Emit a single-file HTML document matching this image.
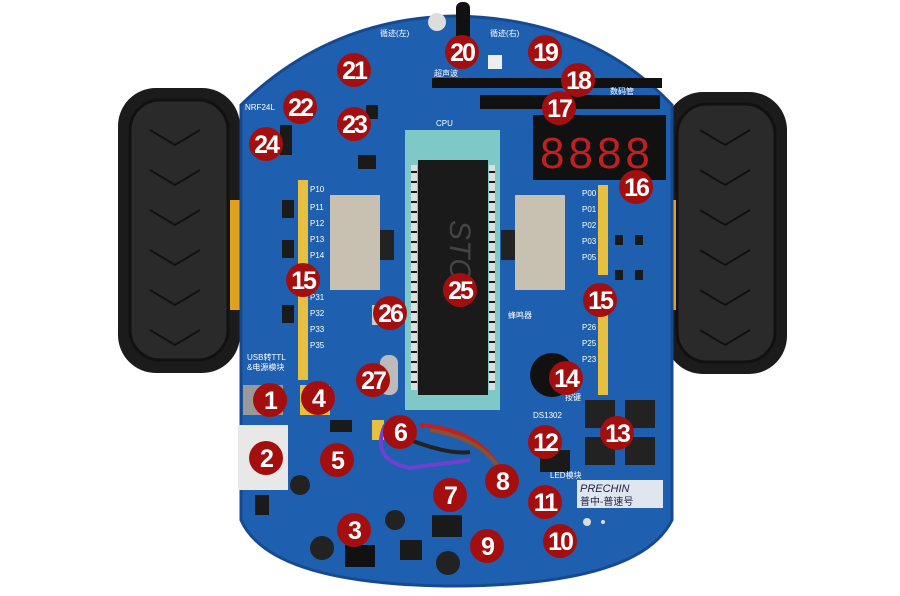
<!DOCTYPE html>
<html><head><meta charset="utf-8"><style>
body{margin:0;background:#fff}
svg{display:block}
text{font-family:"Liberation Sans","Noto Sans CJK SC",sans-serif}
.n{fill:#fff;font-size:25px;font-weight:bold;text-anchor:middle;letter-spacing:-2px}
.s{fill:#fff;font-size:8px}
</style></head><body>
<svg width="900" height="596" viewBox="0 0 900 596">
<!-- wheels -->
<rect x="118" y="88" width="122" height="285" rx="38" fill="#1b1b1b"/>
<rect x="130" y="100" width="98" height="260" rx="30" fill="#2a2a2a" stroke="#111" stroke-width="3"/>
<rect x="665" y="92" width="122" height="282" rx="38" fill="#1b1b1b"/>
<rect x="677" y="104" width="98" height="258" rx="30" fill="#2a2a2a" stroke="#111" stroke-width="3"/>
<g stroke="#111" stroke-width="2" fill="none">
<path d="M150 130 l25 15 l25 -15 M150 170 l25 15 l25 -15 M150 210 l25 15 l25 -15 M150 250 l25 15 l25 -15 M150 290 l25 15 l25 -15 M150 330 l25 15 l25 -15"/>
<path d="M700 130 l25 15 l25 -15 M700 170 l25 15 l25 -15 M700 210 l25 15 l25 -15 M700 250 l25 15 l25 -15 M700 290 l25 15 l25 -15 M700 330 l25 15 l25 -15"/>
</g>
<rect x="230" y="200" width="14" height="110" fill="#e0a020"/>
<rect x="662" y="200" width="14" height="110" fill="#e0a020"/>
<!-- board -->
<path d="M241 105 Q330 18 455 16 Q590 18 672 105 L672 520 Q640 585 455 586 Q270 585 241 520 Z" fill="#1f5fb0" stroke="#164a90" stroke-width="3"/>
<!-- sensor stick -->
<rect x="456" y="2" width="14" height="40" rx="6" fill="#111"/>
<circle cx="437" cy="22" r="9" fill="#ddd"/>
<!-- header rows -->
<rect x="432" y="78" width="230" height="10" fill="#111"/>
<rect x="480" y="95" width="180" height="14" fill="#111"/>
<!-- display -->
<rect x="533" y="115" width="133" height="65" fill="#111"/>
<text x="540" y="168" fill="#c02020" font-size="44" font-family="Liberation Mono" letter-spacing="4">8888</text>
<!-- chip socket -->
<rect x="405" y="130" width="95" height="280" fill="#7fc8c8"/>
<rect x="418" y="160" width="70" height="235" fill="#1a1a1a"/>
<g fill="#ddd">
<rect x="411" y="165" width="6" height="225"/><rect x="489" y="165" width="6" height="225"/>
</g>
<g stroke="#1a1a1a" stroke-width="2">
<path d="M411 172 h6 M411 182 h6 M411 192 h6 M411 202 h6 M411 212 h6 M411 222 h6 M411 232 h6 M411 242 h6 M411 252 h6 M411 262 h6 M411 272 h6 M411 282 h6 M411 292 h6 M411 302 h6 M411 312 h6 M411 322 h6 M411 332 h6 M411 342 h6 M411 352 h6 M411 362 h6 M411 372 h6 M411 382 h6"/>
<path d="M489 172 h6 M489 182 h6 M489 192 h6 M489 202 h6 M489 212 h6 M489 222 h6 M489 232 h6 M489 242 h6 M489 252 h6 M489 262 h6 M489 272 h6 M489 282 h6 M489 292 h6 M489 302 h6 M489 312 h6 M489 322 h6 M489 332 h6 M489 342 h6 M489 352 h6 M489 362 h6 M489 372 h6 M489 382 h6"/>
</g>
<text x="440" y="230" fill="#444" font-size="30" font-style="italic" transform="rotate(90 450 230)">STC</text>
<!-- servo brackets -->
<rect x="330" y="195" width="50" height="95" fill="#c8c0b0"/>
<rect x="515" y="195" width="50" height="95" fill="#c8c0b0"/>
<rect x="380" y="230" width="14" height="30" fill="#222"/>
<rect x="501" y="230" width="14" height="30" fill="#222"/>
<!-- yellow headers -->
<rect x="298" y="180" width="10" height="200" fill="#e8c040"/>
<rect x="598" y="185" width="10" height="90" fill="#e8c040"/>
<rect x="598" y="300" width="10" height="95" fill="#e8c040"/>
<rect x="300" y="385" width="30" height="30" fill="#e8c040"/>
<rect x="372" y="420" width="12" height="20" fill="#e8c040"/>
<!-- white connector -->
<rect x="238" y="425" width="50" height="65" fill="#e8e8e8"/>
<rect x="243" y="385" width="40" height="30" fill="#999"/>
<!-- buzzer -->
<circle cx="552" cy="375" r="22" fill="#111"/>
<!-- buttons -->
<g fill="#222"><rect x="585" y="400" width="30" height="28"/><rect x="625" y="400" width="30" height="28"/><rect x="585" y="437" width="30" height="28"/><rect x="625" y="437" width="30" height="28"/></g>
<!-- small components -->
<g fill="#1a1a1a">
<rect x="366" y="105" width="12" height="14"/><rect x="280" y="125" width="12" height="30"/><rect x="358" y="155" width="18" height="14"/>
<rect x="330" y="420" width="22" height="12"/><rect x="432" y="515" width="30" height="22"/><rect x="400" y="540" width="22" height="20"/><rect x="255" y="495" width="14" height="20"/>
<rect x="615" y="270" width="8" height="10"/><rect x="635" y="270" width="8" height="10"/><rect x="615" y="235" width="8" height="10"/><rect x="635" y="235" width="8" height="10"/>
<rect x="540" y="450" width="30" height="22"/>
<rect x="282" y="200" width="12" height="18"/><rect x="282" y="240" width="12" height="18"/><rect x="282" y="305" width="12" height="18"/>
</g>
<rect x="488" y="55" width="14" height="14" fill="#eee"/>
<rect x="372" y="305" width="18" height="20" fill="#ccc"/>
<rect x="380" y="355" width="18" height="40" rx="8" fill="#bbb"/>
<!-- wires -->
<path d="M385 425 Q370 460 410 468 L470 460" stroke="#7040d0" stroke-width="4" fill="none"/>
<path d="M420 425 Q480 430 500 470" stroke="#c02020" stroke-width="4" fill="none"/>
<path d="M430 430 Q490 440 505 480" stroke="#8a5030" stroke-width="4" fill="none"/>
<path d="M410 440 Q450 455 470 452" stroke="#222" stroke-width="4" fill="none"/>
<!-- PRECHIN label -->
<rect x="577" y="480" width="86" height="28" fill="#dfe6f0"/>
<text x="580" y="492" fill="#224" font-size="11" font-style="italic" font-family="Liberation Serif">PRECHIN</text>
<text x="580" y="505" fill="#224" font-size="10">普中-普速号</text>
<!-- caps -->
<circle cx="322" cy="548" r="12" fill="#222"/><circle cx="448" cy="563" r="12" fill="#222"/><circle cx="395" cy="520" r="10" fill="#222"/><circle cx="300" cy="485" r="10" fill="#222"/>
<circle cx="587" cy="522" r="4" fill="#ddd"/><circle cx="603" cy="522" r="2" fill="#ddd"/>
<rect x="345" y="545" width="30" height="22" fill="#111"/>
<text class="s" x="247" y="360">USB转TTL</text><text class="s" x="247" y="370">&amp;电源模块</text>
<text class="s" x="245" y="110">NRF24L</text>
<text class="s" x="436" y="126">CPU</text>
<text class="s" x="434" y="76">超声波</text>
<text class="s" x="610" y="94">数码管</text>
<text class="s" x="380" y="36">循迹(左)</text><text class="s" x="490" y="36">循迹(右)</text>
<text class="s" x="565" y="400">按键</text>
<text class="s" x="533" y="418">DS1302</text>
<text class="s" x="550" y="478">LED模块</text>
<text class="s" x="508" y="318">蜂鸣器</text>
<g class="s"><text class="s" x="310" y="192">P10</text><text class="s" x="310" y="210">P11</text><text class="s" x="310" y="226">P12</text><text class="s" x="310" y="242">P13</text><text class="s" x="310" y="258">P14</text>
<text class="s" x="310" y="300">P31</text><text class="s" x="310" y="316">P32</text><text class="s" x="310" y="332">P33</text><text class="s" x="310" y="348">P35</text>
<text class="s" x="582" y="196">P00</text><text class="s" x="582" y="212">P01</text><text class="s" x="582" y="228">P02</text><text class="s" x="582" y="244">P03</text><text class="s" x="582" y="260">P05</text>
<text class="s" x="582" y="330">P26</text><text class="s" x="582" y="346">P25</text><text class="s" x="582" y="362">P23</text></g>
<!-- number markers -->
<g fill="#a50e0e">
<circle cx="270" cy="400" r="17"/><circle cx="266" cy="458" r="17"/><circle cx="354" cy="530" r="17"/><circle cx="318" cy="398" r="17"/><circle cx="337" cy="460" r="17"/><circle cx="400" cy="432" r="17"/><circle cx="450" cy="495" r="17"/><circle cx="502" cy="481" r="17"/><circle cx="487" cy="546" r="17"/><circle cx="560" cy="541" r="17"/><circle cx="545" cy="502" r="17"/><circle cx="545" cy="442" r="17"/><circle cx="617" cy="433" r="17"/><circle cx="566" cy="378" r="17"/><circle cx="303" cy="280" r="17"/><circle cx="600" cy="300" r="17"/><circle cx="636" cy="187" r="17"/><circle cx="559" cy="108" r="17"/><circle cx="578" cy="80" r="17"/><circle cx="545" cy="52" r="17"/><circle cx="462" cy="52" r="17"/><circle cx="354" cy="70" r="17"/><circle cx="300" cy="107" r="17"/><circle cx="354" cy="124" r="17"/><circle cx="266" cy="144" r="17"/><circle cx="460" cy="290" r="17"/><circle cx="390" cy="313" r="17"/><circle cx="373" cy="380" r="17"/>
</g>
<g>
<text class="n" x="270" y="409">1</text><text class="n" x="266" y="467">2</text><text class="n" x="354" y="539">3</text><text class="n" x="318" y="407">4</text><text class="n" x="337" y="469">5</text><text class="n" x="400" y="441">6</text><text class="n" x="450" y="504">7</text><text class="n" x="502" y="490">8</text><text class="n" x="487" y="555">9</text><text class="n" x="560" y="550">10</text><text class="n" x="545" y="511">11</text><text class="n" x="545" y="451">12</text><text class="n" x="617" y="442">13</text><text class="n" x="566" y="387">14</text><text class="n" x="303" y="289">15</text><text class="n" x="600" y="309">15</text><text class="n" x="636" y="196">16</text><text class="n" x="559" y="117">17</text><text class="n" x="578" y="89">18</text><text class="n" x="545" y="61">19</text><text class="n" x="462" y="61">20</text><text class="n" x="354" y="79">21</text><text class="n" x="300" y="116">22</text><text class="n" x="354" y="133">23</text><text class="n" x="266" y="153">24</text><text class="n" x="460" y="299">25</text><text class="n" x="390" y="322">26</text><text class="n" x="373" y="389">27</text>
</g>
</svg>
</body></html>
